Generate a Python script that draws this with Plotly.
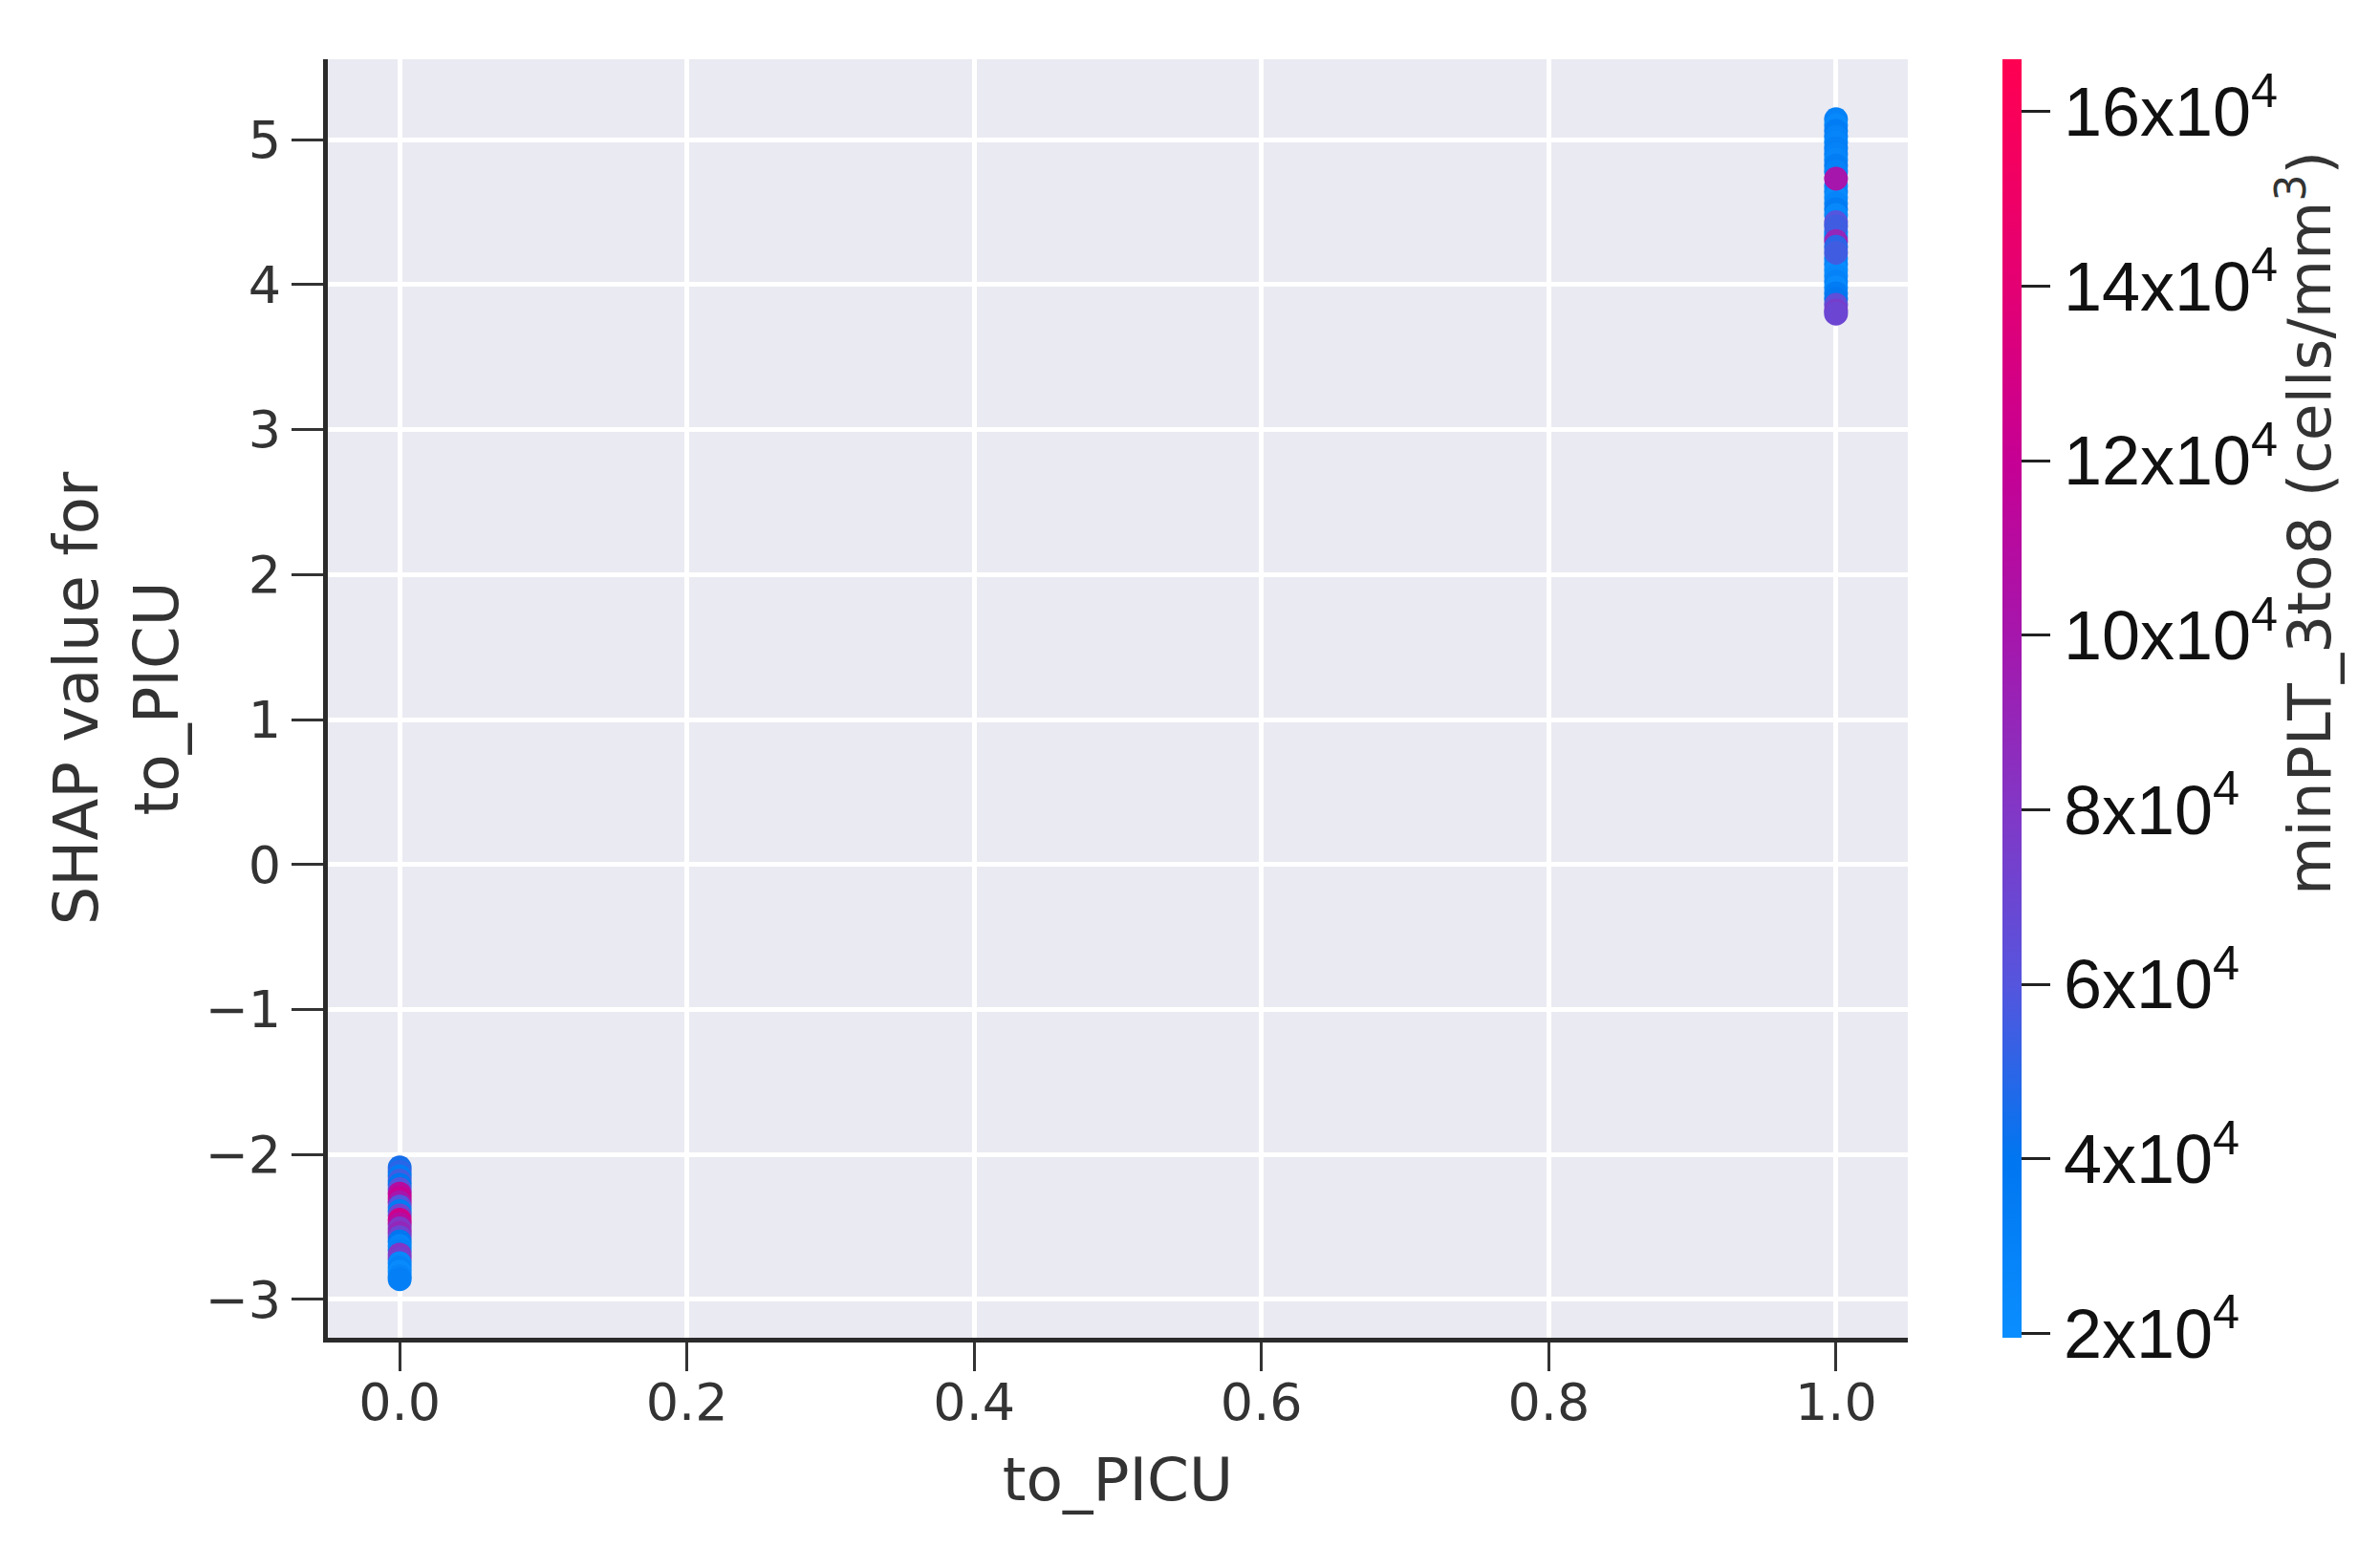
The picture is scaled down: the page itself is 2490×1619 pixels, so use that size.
import plotly.graph_objects as go

# ---------------- data ----------------
# x = 1 cluster (to_PICU = 1)
shap_1 = [5.14, 5.10, 5.06, 5.02, 4.98, 4.94, 4.90, 4.86, 4.82, 4.78,
          4.68, 4.64, 4.60, 4.56, 4.52, 4.48, 4.36, 4.33,
          4.18, 4.14, 4.10, 4.06, 4.02, 3.98, 3.94, 3.90,
          4.73, 4.43, 4.40, 4.30, 4.26, 4.22, 3.86, 3.82, 3.80]
plt_1 = [3.0, 2.5, 3.5, 3.0, 2.8, 3.2, 3.0, 2.6, 3.4, 3.0,
         2.4, 3.0, 2.2, 2.8, 3.6, 2.5, 2.2, 2.6,
         2.3, 2.8, 2.0, 2.5, 3.0, 2.4, 3.5, 4.0,
         10.0, 6.0, 5.5, 9.0, 5.0, 5.5, 6.5, 7.5, 7.0]

# x = 0 cluster (to_PICU = 0)
shap_0 = [-2.09, -2.12, -2.15, -2.18, -2.21, -2.24, -2.27, -2.30, -2.33, -2.36,
          -2.39, -2.42, -2.45, -2.48, -2.51, -2.54, -2.57, -2.60, -2.63, -2.66,
          -2.69, -2.72, -2.75, -2.78, -2.81, -2.84, -2.86]
plt_0 = [4.5, 5.0, 3.5, 5.5, 4.0, 6.0, 11.0, 12.0, 10.0, 6.0,
         3.5, 7.0, 12.5, 11.0, 8.0, 9.0, 7.0, 4.0, 2.8, 3.0,
         8.0, 7.5, 2.5, 3.0, 2.2, 2.8, 3.2]

x_vals = [1] * len(shap_1) + [0] * len(shap_0)
y_vals = shap_1 + shap_0
c_vals = [v * 1e4 for v in plt_1 + plt_0]

cbar_tickvals = [2e4, 4e4, 6e4, 8e4, 10e4, 12e4, 14e4, 16e4]
cbar_ticktext = ["2x10<sup>4</sup>", "4x10<sup>4</sup>", "6x10<sup>4</sup>", "8x10<sup>4</sup>",
                 "10x10<sup>4</sup>", "12x10<sup>4</sup>", "14x10<sup>4</sup>", "16x10<sup>4</sup>"]
x_ticks = [0.0, 0.2, 0.4, 0.6, 0.8, 1.0]
x_ticktext = ["0.0", "0.2", "0.4", "0.6", "0.8", "1.0"]
y_ticks = [-3, -2, -1, 0, 1, 2, 3, 4, 5]

# SHAP-like red_blue colormap
colorscale = [
    [0.0, "rgb(10,142,255)"],
    [0.14, "rgb(0,118,240)"],
    [0.276, "rgb(85,85,222)"],
    [0.413, "rgb(130,55,198)"],
    [0.55, "rgb(166,22,172)"],
    [0.686, "rgb(198,0,148)"],
    [0.823, "rgb(228,0,115)"],
    [1.0, "rgb(255,0,82)"],
]

# page has an 8px body margin, so the figure is drawn 8px right/down
OFF = 8
W, H = 2490 - OFF, 1619 - OFF
L, T = 343 - OFF, 62 - OFF
R = W - (1996 - OFF)
B = H - (1400 - OFF)
pw = W - L - R
ph = H - T - B

fig = go.Figure()
fig.add_trace(go.Scatter(
    x=x_vals, y=y_vals, mode="markers",
    marker=dict(
        size=25, color=c_vals, colorscale=colorscale,
        cmin=1.95e4, cmax=16.6e4, line=dict(width=0),
        colorbar=dict(
            x=(2095 - OFF - L) / pw, xanchor="left", xpad=0, ypad=0,
            y=0.5, yanchor="middle", len=1, lenmode="fraction",
            thickness=20, outlinewidth=0,
            tickvals=cbar_tickvals, ticktext=cbar_ticktext,
            ticks="outside", ticklen=30, tickwidth=3, tickcolor="#222",
            tickfont=dict(family="Liberation Sans, Arial, sans-serif", size=72, color="#111"),
        ),
    ),
    showlegend=False, hoverinfo="skip",
))

axis_font = dict(family="DejaVu Sans, sans-serif", size=54, color="#333")
fig.update_layout(
    width=W, height=H,
    margin=dict(l=L, r=R, t=T, b=B, autoexpand=False),
    paper_bgcolor="white", plot_bgcolor="#EAEAF2",
    xaxis=dict(
        range=[-0.05, 1.05], tickvals=x_ticks, ticktext=x_ticktext,
        showgrid=True, gridcolor="white", gridwidth=5, zeroline=False,
        showline=True, linecolor="#2b2b2b", linewidth=5,
        ticks="outside", ticklen=30, tickwidth=3, tickcolor="#333",
        tickfont=axis_font, ticklabelstandoff=-14,
        title=dict(text="to_PICU", font=dict(family="DejaVu Sans, sans-serif", size=63, color="#333"), standoff=30),
    ),
    yaxis=dict(
        range=[-3.264, 5.554], tickvals=y_ticks,
        showgrid=True, gridcolor="white", gridwidth=5, zeroline=False,
        showline=True, linecolor="#2b2b2b", linewidth=5,
        ticks="outside", ticklen=33, tickwidth=3, tickcolor="#333",
        tickfont=axis_font,
        title=dict(text="SHAP value for<br>to_PICU", font=dict(family="DejaVu Sans, sans-serif", size=64, color="#333"), standoff=9),
    ),
)

fig.add_annotation(
    text="minPLT_3to8 (cells/mm<sup>3</sup>)", textangle=-90,
    xref="paper", yref="paper",
    x=(2412 - OFF - L) / pw, y=(1400 - 548) / ph,
    xanchor="center", yanchor="middle", showarrow=False,
    font=dict(family="DejaVu Sans, sans-serif", size=63, color="#333"),
)

fig.write_html("out.html")
